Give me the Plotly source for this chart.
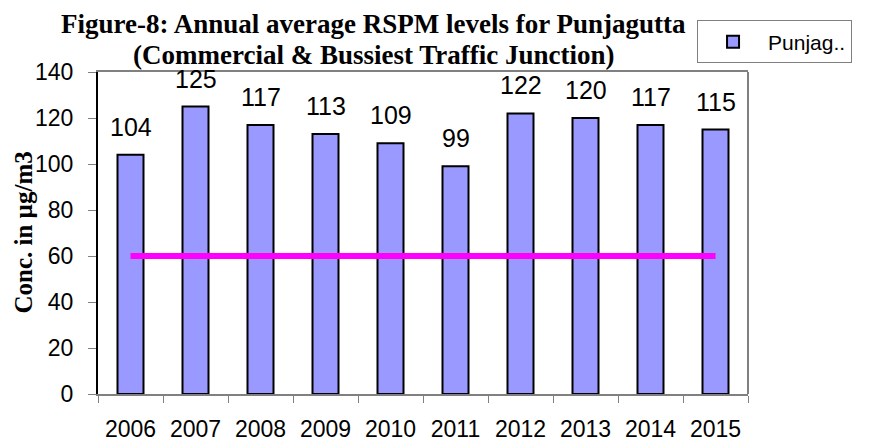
import plotly.graph_objects as go

years = ["2006", "2007", "2008", "2009", "2010", "2011", "2012", "2013", "2014", "2015"]
rspm = [104, 125, 117, 113, 109, 99, 122, 120, 117, 115]
standard = [60, 60, 60, 60, 60, 60, 60, 60, 60, 60]
y_ticks = [0, 20, 40, 60, 80, 100, 120, 140]
title_lines = ["Figure-8: Annual average RSPM levels for Punjagutta",
               "(Commercial & Bussiest Traffic Junction)"]

# the page body adds an 8px offset; layout coordinates below compensate for it
OFF = 8
PL, PR, PT, PB = 97.5 - OFF, 748 - OFF, 72 - OFF, 394 - OFF
PW, PH = PR - PL, PB - PT


def px_x(x):
    return (x - OFF - PL) / PW


def px_y(y):
    return (PB - (y - OFF)) / PH


fig = go.Figure()
fig.add_trace(go.Bar(
    x=years, y=rspm, name="Punjag..",
    marker=dict(color="#9999FF", line=dict(color="black", width=2)),
))
fig.add_trace(go.Scatter(
    x=years, y=standard, mode="lines", showlegend=False,
    line=dict(color="#FF00FF", width=6),
))

annotations = []
for i, v in enumerate(rspm):
    annotations.append(dict(
        x=i, y=v, xref="x", yref="y", text=str(v), showarrow=False,
        yanchor="bottom", yshift=12,
        font=dict(family="Arial, Liberation Sans", size=25, color="black"),
    ))
annotations.append(dict(
    x=px_x(22), y=0.5, xref="paper", yref="paper",
    text="<b>Conc. in µg/m3</b>", textangle=-90, showarrow=False,
    xanchor="center", yanchor="middle",
    font=dict(family="Liberation Serif, Times New Roman", size=25, color="black"),
))
for line, cy in zip(title_lines, [24, 55]):
    annotations.append(dict(
        x=px_x(373), y=px_y(cy), xref="paper", yref="paper",
        text="<b>" + line + "</b>", showarrow=False,
        xanchor="center", yanchor="middle",
        font=dict(family="Liberation Serif, Times New Roman", size=27, color="black"),
    ))

fig.update_layout(
    width=875, height=444,
    margin=dict(l=PL, r=875 - PR, t=PT, b=444 - PB, autoexpand=False),
    paper_bgcolor="white", plot_bgcolor="white",
    bargap=0.6,
    showlegend=True,
    legend=dict(
        x=px_x(697), y=1.16, xanchor="left", yanchor="top",
        bordercolor="#808080", borderwidth=1, bgcolor="white",
        font=dict(family="Arial, Liberation Sans", size=21, color="black"),
        itemwidth=60,
    ),
    annotations=annotations,
    shapes=[dict(type="line", xref="paper", yref="paper", x0=1, x1=1, y0=0, y1=1,
                 line=dict(color="#808080", width=2))],
)
fig.update_xaxes(
    type="category", range=[-0.5, 9.5],
    showline=True, linecolor="#808080", linewidth=2, mirror=True,
    ticks="outside", tickson="boundaries", ticklen=7, tickcolor="#808080",
    showgrid=False, tickangle=0, ticklabelstandoff=13,
    tickfont=dict(family="Arial, Liberation Sans", size=23, color="black"),
)
fig.update_yaxes(
    range=[0, 140], tickvals=y_ticks, showline=True, linecolor="black", linewidth=2,
    ticks="outside", ticklen=8, tickcolor="#808080", showgrid=False, zeroline=False,
    ticklabelstandoff=10,
    tickfont=dict(family="Arial, Liberation Sans", size=23, color="black"),
)

fig.write_html("out.html")
